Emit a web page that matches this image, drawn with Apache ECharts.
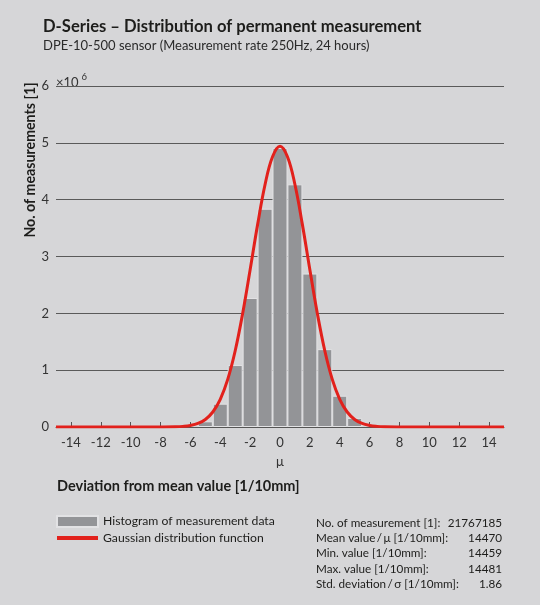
<!DOCTYPE html>
<html><head><meta charset="utf-8">
<script src="https://cdn.jsdelivr.net/npm/echarts@6/dist/echarts.min.js"></script>
<style>html,body{margin:0;padding:0;background:#d6d6d8}#c{width:540px;height:605px}</style>
</head><body><div id="c"></div>
<script>
// Histogram bins (deviation from mean, 1/10mm) and counts (x10^6)
const binCenters = [-5, -4, -3, -2, -1, 0, 1, 2, 3, 4, 5];
const binCounts = [0.10, 0.41, 1.09, 2.27, 3.84, 4.91, 4.27, 2.70, 1.37, 0.55, 0.16];
// Gaussian curve points (x10^6)
const curveX = [-15, -10, -8, -7, -6.5, -6, -5.5, -5, -4.5, -4, -3.5, -3, -2.5, -2, -1.5, -1, -0.5, 0, 0.5, 1, 1.5, 2, 2.5, 3, 3.5, 4, 4.5, 5, 5.5, 6, 6.5, 7, 8, 10, 15];
const curveY = [0, 0, 0.001, 0.004, 0.011, 0.027, 0.062, 0.133, 0.264, 0.488, 0.839, 1.342, 1.998, 2.766, 3.561, 4.266, 4.755, 4.94, 4.755, 4.266, 3.561, 2.766, 1.998, 1.342, 0.839, 0.488, 0.264, 0.133, 0.062, 0.027, 0.011, 0.004, 0.001, 0, 0];
const xTicks = [-14, -12, -10, -8, -6, -4, -2, 0, 2, 4, 6, 8, 10, 12, 14];
const yTicks = [0, 1, 2, 3, 4, 5, 6];
const statLabels = ['No. of measurement [1]:', 'Mean value\u2009/\u2009\u03bc [1/10mm]:', 'Min. value [1/10mm]:', 'Max. value [1/10mm]:', 'Std. deviation\u2009/\u2009\u03c3 [1/10mm]:'];
const statValues = ['21767185', '14470', '14459', '14481', '1.86'];

const FONT = 'Lato';
const TXT = '#1d1d1b';
const chart = echarts.init(document.getElementById('c'), null, {renderer: 'canvas'});

const graphics = [
  {type: 'text', left: 56, top: 72, style: {text: '{a|\u00d710}{b|6}', rich: {a: {fontSize: 13, fontFamily: FONT, fill: '#333', verticalAlign: 'bottom'}, b: {fontSize: 9.5, fontFamily: FONT, fill: '#333', verticalAlign: 'top', padding: [0, 0, 7, 3]}}}},
  {type: 'text', x: 30, y: 160, rotation: Math.PI / 2, style: {text: 'No. of measurements [1]', fontSize: 14.2, fontWeight: 'bold', fontFamily: FONT, fill: TXT, align: 'center', verticalAlign: 'middle'}},
  {type: 'text', x: 57, y: 486, style: {text: 'Deviation from mean value [1/10mm]', fontSize: 14.5, fontWeight: 'bold', fontFamily: FONT, fill: TXT, align: 'left', verticalAlign: 'middle'}}
];
const rowY = [523, 538, 553, 569, 584];
statLabels.forEach((t, i) => {
  graphics.push({type: 'text', x: 316, y: rowY[i], style: {text: t, fontSize: 11.7, fontFamily: FONT, fill: TXT, align: 'left', verticalAlign: 'middle'}});
  graphics.push({type: 'text', x: 502, y: rowY[i], style: {text: statValues[i], fontSize: 11.7, fontFamily: FONT, fill: TXT, align: 'right', verticalAlign: 'middle'}});
});

chart.setOption({
  animation: false,
  backgroundColor: '#d6d6d8',
  textStyle: {fontFamily: FONT},
  title: {
    text: 'D-Series \u2013 Distribution of permanent measurement',
    subtext: 'DPE-10-500 sensor (Measurement rate 250Hz, 24 hours)',
    left: 38, top: 13, itemGap: 4,
    textStyle: {fontSize: 16.6, fontWeight: 'bold', color: TXT, fontFamily: FONT},
    subtextStyle: {fontSize: 13, color: '#2a2a2a', fontFamily: FONT}
  },
  grid: {left: 56, right: 36, top: 86, bottom: 178},
  legend: {
    orient: 'vertical', left: 56, top: 515, padding: 0,
    itemWidth: 41, itemHeight: 11, itemGap: 4, selectedMode: false,
    textStyle: {fontSize: 12.2, color: TXT, fontFamily: FONT},
    data: [
      {name: 'Histogram of measurement data', icon: 'rect'},
      {name: 'Gaussian distribution function', icon: 'path://M0,0 L41,0 L41,4 L0,4 Z'}
    ]
  },
  xAxis: {
    type: 'value', min: -15, max: 15,
    name: '\u03bc', nameLocation: 'middle', nameGap: 28,
    nameTextStyle: {fontSize: 13, color: '#333', fontFamily: FONT},
    axisLine: {show: true, lineStyle: {color: '#555', width: 1}},
    axisTick: {show: true, inside: true, length: 5, customValues: xTicks, lineStyle: {color: '#555'}},
    axisLabel: {customValues: xTicks, fontSize: 13, color: '#333', margin: 9, fontFamily: FONT},
    splitLine: {show: false}
  },
  yAxis: {
    type: 'value', min: 0, max: 6, interval: 1,
    axisLine: {show: false}, axisTick: {show: false},
    axisLabel: {fontSize: 13, color: '#333', margin: 7, fontFamily: FONT},
    splitLine: {show: true, lineStyle: {color: '#5a5a5a', width: 1}}
  },
  series: [
    {
      name: 'Histogram of measurement data', type: 'bar',
      data: binCenters.map((x, i) => [x, binCounts[i]]),
      barWidth: 15,
      itemStyle: {color: '#939497', borderColor: '#e2e2e4', borderWidth: 1},
      z: 2
    },
    {
      name: 'Gaussian distribution function', type: 'line',
      data: curveX.map((x, i) => [x, curveY[i]]),
      smooth: 0.4, symbol: 'none', showSymbol: false,
      lineStyle: {color: '#e2211c', width: 3},
      itemStyle: {color: '#e2211c'},
      z: 5
    }
  ],
  graphic: graphics
});
</script></body></html>
